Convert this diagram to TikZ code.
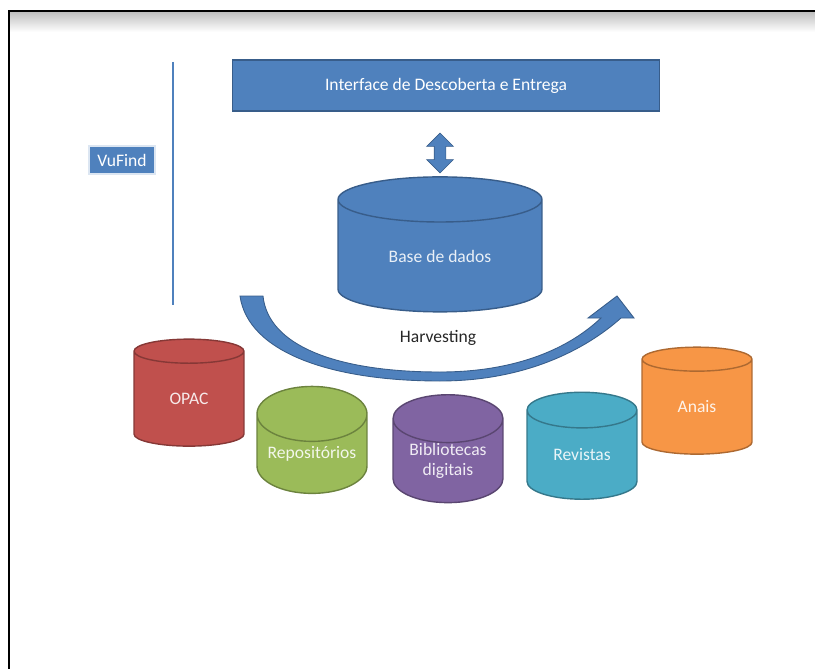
\documentclass[tikz,border=0pt]{standalone}
\usepackage{fontspec}
\setmainfont{Carlito}
\usepackage{xcolor}
\usetikzlibrary{shapes.geometric, shapes.arrows, positioning}
\definecolor{vfblue}{RGB}{79, 129, 189}
\definecolor{vfbluedk}{RGB}{56, 93, 138}
\definecolor{opacred}{RGB}{192, 80, 77}
\definecolor{repogreen}{RGB}{155, 187, 89}
\definecolor{bibpurple}{RGB}{128, 100, 162}
\definecolor{revteal}{RGB}{75, 172, 198}
\definecolor{anaisorange}{RGB}{247, 150, 70}

\begin{document}
\begin{tikzpicture}[
    x=0.02cm, y=-0.02cm,
    box/.style={rectangle, draw=vfbluedk, fill=vfblue, line width=0.6pt, font=\fontsize{10}{11.5}\selectfont, text=white},
    db/.style={cylinder, draw=#1!70!black, fill=#1, line width=0.8pt, shape border rotate=90, inner sep=0pt, minimum width=2.2cm, minimum height=2.14cm, aspect=0.62, align=center, font=\fontsize{10}{11.5}\selectfont, text=white!88!#1},
    bigdb/.style={cylinder, draw=vfbluedk, fill=vfblue, line width=0.8pt, shape border rotate=90, inner sep=0pt, minimum width=4.08cm, minimum height=2.7cm, aspect=0.44, font=\fontsize{10}{11.5}\selectfont, text=white!88!vfblue}
]
\useasboundingbox (0,0) rectangle (815,669);

% moldura
\shade[top color=black!25, bottom color=white] (9,12) rectangle (815,32);
\draw[line width=1.6pt] (9,669) -- (9,11) -- (815,11);

% camada superior
\node [box, minimum width=8.56cm, minimum height=1.02cm] (iface) at (446,85.5) {Interface de Descoberta e Entrega};
\node [box, draw=white!80!vfblue, minimum width=1.32cm, minimum height=0.56cm, inner sep=0pt] (vufind) at (122,160) {VuFind};
\coordinate (ltop) at (173,62);
\coordinate (lbot) at (173,305);
\draw[vfblue, line width=1.2pt] (ltop) -- (lbot);

\node [bigdb] (base) at (440,256) {Base de dados};
\node [double arrow, draw=vfbluedk, fill=vfblue, rotate=90, inner sep=0.11cm, minimum height=0.8cm, double arrow head extend=0.15cm, double arrow head indent=0pt] (link) at (440,153) {};

% harvesting
\fill[vfblue, draw=vfbluedk, line width=0.5pt]
  (240,296) .. controls (248,352) and (330,381) .. (440,381)
  .. controls (525,381) and (585,350) .. (621,318)
  -- (634,318) -- (617,296) -- (588,318) -- (601,318)
  .. controls (565,352) and (510,372) .. (440,372)
  .. controls (335,372) and (268,345) .. (263,296) -- cycle;
\node[font=\fontsize{10}{11.5}\selectfont, text=black!85] (harv) at (438,338) {Harvesting};

% fontes
\node [db=opacred] (opac) at (189,399) {OPAC};
\node [db=repogreen] (repo) at (312,454) {Repositórios};
\node [db=bibpurple] (bib) at (448,461) {Bibliotecas\\digitais};
\node [db=revteal] (rev) at (582,455) {Revistas};
\node [db=anaisorange] (anais) at (697,407) {Anais};

\end{tikzpicture}
\end{document}
